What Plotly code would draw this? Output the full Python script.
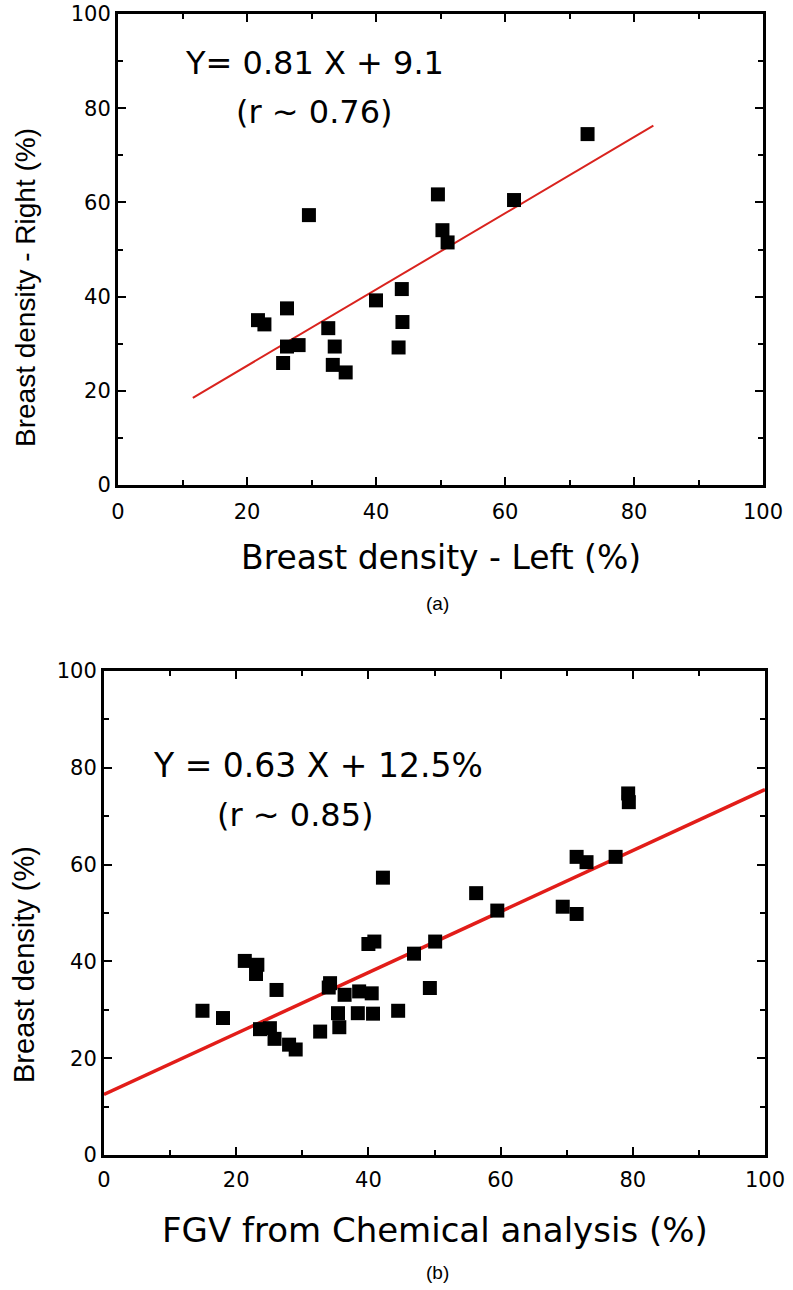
import plotly.graph_objects as go

# ---- Data: panel (a) ----
left_a = [72.8, 49.6, 61.4, 29.6, 50.3, 51.1, 44.0, 40.0, 26.2, 21.7,
          22.7, 44.1, 32.6, 26.2, 28.0, 33.6, 43.5, 25.6, 33.3, 35.3]
right_a = [74.5, 61.7, 60.5, 57.3, 54.1, 51.5, 41.6, 39.2, 37.5, 35.0,
           34.1, 34.6, 33.3, 29.4, 29.7, 29.4, 29.2, 25.9, 25.5, 23.9]
fit_x_a = [11.6, 83.0]
fit_y_a = [18.5, 76.3]

# ---- Data: panel (b) ----
fgv_b = [79.3, 79.4, 71.5, 73.0, 77.4, 42.2, 56.3, 59.5, 69.4, 71.5,
         40.0, 40.9, 50.1, 46.9, 21.3, 23.2, 23.0, 26.1, 34.2, 34.0,
         36.4, 38.6, 40.5, 49.3, 14.9, 18.0, 35.4, 38.4, 40.7, 44.5,
         23.6, 25.1, 35.6, 32.7, 25.8, 28.0, 29.0]
dens_b = [74.7, 72.9, 61.6, 60.5, 61.6, 57.3, 54.1, 50.5, 51.3, 49.8,
          43.6, 44.1, 44.1, 41.6, 40.1, 39.3, 37.4, 34.1, 35.5, 34.6,
          33.1, 33.8, 33.4, 34.5, 29.8, 28.3, 29.3, 29.3, 29.2, 29.8,
          26.0, 26.2, 26.4, 25.5, 24.0, 22.8, 21.8]
fit_x_b = [0, 100]
fit_y_b = [12.5, 75.5]

tick_vals = [0, 20, 40, 60, 80, 100]
tick_text = ["0", "20", "40", "60", "80", "100"]

W, H = 793, 1290
SANS = "Liberation Sans, Arial, Helvetica, sans-serif"
WIDE = "DejaVu Sans, Verdana, sans-serif"

fig = go.Figure()
fig.add_trace(go.Scatter(x=fit_x_a, y=fit_y_a, mode="lines",
                         line=dict(color="#d9231e", width=2),
                         xaxis="x", yaxis="y", showlegend=False))
fig.add_trace(go.Scatter(x=left_a, y=right_a, mode="markers",
                         marker=dict(symbol="square", size=14, color="black"),
                         xaxis="x", yaxis="y", showlegend=False))
fig.add_trace(go.Scatter(x=fit_x_b, y=fit_y_b, mode="lines",
                         line=dict(color="#e21d19", width=3.5),
                         xaxis="x2", yaxis="y2", showlegend=False))
fig.add_trace(go.Scatter(x=fgv_b, y=dens_b, mode="markers",
                         marker=dict(symbol="square", size=14, color="black"),
                         xaxis="x2", yaxis="y2", showlegend=False))


def ax(domain, anchor, standoff):
    return dict(domain=domain, anchor=anchor, range=[0, 100],
                tickvals=tick_vals, ticktext=tick_text,
                showgrid=False, zeroline=False, automargin=False,
                showline=True, linecolor="black", linewidth=3, mirror="ticks",
                ticks="inside", ticklen=8, tickwidth=2, tickcolor="black",
                minor=dict(dtick=10, ticks="inside", ticklen=5, tickwidth=2,
                           tickcolor="black", showgrid=False),
                tickfont=dict(family=WIDE, size=21, color="black"),
                ticklabelstandoff=standoff, ticklabeloverflow="allow")


def px_x(p):
    return p / W


def px_y(p):
    return 1 - p / H


fig.update_layout(
    width=W, height=H,
    margin=dict(l=0, r=0, t=0, b=0),
    paper_bgcolor="white", plot_bgcolor="white",
    xaxis=ax([px_x(118), px_x(763)], "y", 6),
    yaxis=ax([px_y(485), px_y(14)], "x", 0),
    xaxis2=ax([px_x(104), px_x(765)], "y2", 4),
    yaxis2=ax([px_y(1155), px_y(671)], "x2", 0),
)

annots = [
    # panel (a)
    ("Y= 0.81 X + 9.1", 314, 63, 32, 0, WIDE),
    ("(r ~ 0.76)", 314, 112, 32, 0, WIDE),
    ("Breast density - Left (%)", 441, 557, 33, 0, WIDE),
    ("Breast density - Right (%)", 25, 288, 28, -90, SANS),
    ("(a)", 437, 603, 19, 0, SANS),
    # panel (b)
    ("Y = 0.63 X + 12.5%", 318, 765, 33, 0, WIDE),
    ("(r ~ 0.85)", 295, 815, 32, 0, WIDE),
    ("FGV from Chemical analysis (%)", 435, 1230, 34, 0, WIDE),
    ("Breast density (%)", 24, 965, 29, -90, SANS),
    ("(b)", 437, 1272, 19, 0, SANS),
]
for text, x, y, size, ang, fam in annots:
    fig.add_annotation(text=text, x=px_x(x), y=px_y(y), xref="paper", yref="paper",
                       xanchor="center", yanchor="middle", showarrow=False,
                       textangle=ang,
                       font=dict(family=fam, size=size, color="black"))

fig.write_html("out.html",
               config={"displayModeBar": False},
               post_script="document.body.style.margin='0';"
                           "document.body.style.padding='0';")
